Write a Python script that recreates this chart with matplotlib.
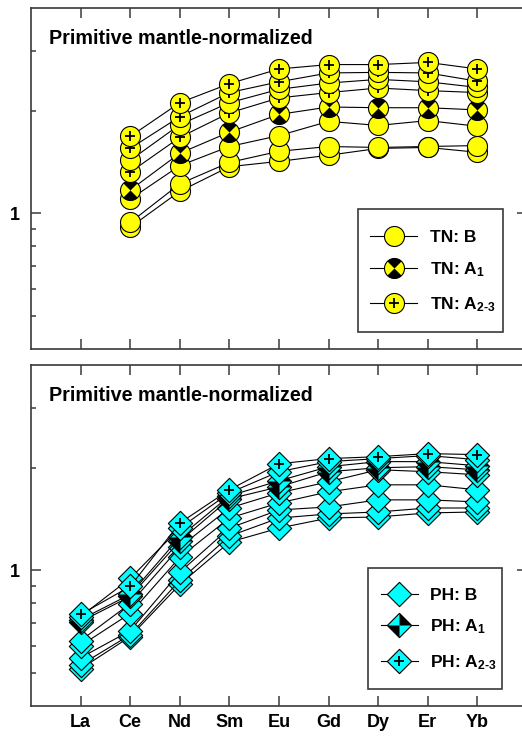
import numpy as np
import matplotlib
matplotlib.use('Agg')
import matplotlib.pyplot as plt
from matplotlib.path import Path
from matplotlib.patches import Rectangle
from matplotlib.ticker import FixedLocator, NullFormatter, FixedFormatter

plt.rcParams['font.family'] = ['Liberation Sans', 'DejaVu Sans']
plt.rcParams['font.weight'] = 'bold'
plt.rcParams['mathtext.fontset'] = 'custom'
plt.rcParams['mathtext.rm'] = 'Liberation Sans:bold'
plt.rcParams['mathtext.it'] = 'Liberation Sans:bold'
plt.rcParams['mathtext.bf'] = 'Liberation Sans:bold'
plt.rcParams['mathtext.default'] = 'rm'

# REE order on the x axis
elements = ['La', 'Ce', 'Nd', 'Sm', 'Eu', 'Gd', 'Dy', 'Er', 'Yb']

# TN samples (no La analysed) - Ce..Yb, primitive mantle-normalized
tn_elements = ['Ce', 'Nd', 'Sm', 'Eu', 'Gd', 'Dy', 'Er', 'Yb']
tn_groups = ['B', 'B', 'B', 'A1', 'A23', 'B', 'A23', 'A23']
tn_values = [
    [0.91, 1.16, 1.37, 1.42, 1.48, 1.55, 1.56, 1.51],
    [0.94, 1.22, 1.41, 1.52, 1.57, 1.56, 1.57, 1.58],
    [1.10, 1.38, 1.57, 1.69, 1.86, 1.81, 1.87, 1.80],
    [1.17, 1.50, 1.73, 1.95, 2.05, 2.04, 2.04, 2.01],
    [1.32, 1.67, 1.97, 2.18, 2.26, 2.33, 2.29, 2.26],
    [1.43, 1.82, 2.11, 2.31, 2.41, 2.47, 2.43, 2.34],
    [1.55, 1.92, 2.26, 2.43, 2.58, 2.59, 2.58, 2.44],
    [1.68, 2.11, 2.40, 2.65, 2.73, 2.73, 2.77, 2.65],
]

# PH samples - La..Yb, primitive mantle-normalized
ph_elements = elements
ph_groups = ['B', 'B', 'B', 'B', 'B', 'A1', 'A1', 'B', 'A23']
ph_values = [
    [0.514, 0.639, 0.909, 1.209, 1.330, 1.423, 1.434, 1.473, 1.483],
    [0.528, 0.647, 0.934, 1.260, 1.423, 1.463, 1.483, 1.523, 1.523],
    [0.554, 0.665, 0.987, 1.330, 1.503, 1.534, 1.609, 1.609, 1.587],
    [0.601, 0.747, 1.092, 1.423, 1.576, 1.699, 1.781, 1.781, 1.722],
    [0.622, 0.799, 1.169, 1.523, 1.687, 1.818, 1.972, 1.946, 1.906],
    [0.707, 0.838, 1.218, 1.620, 1.757, 1.946, 1.999, 2.013, 1.972],
    [0.717, 0.850, 1.251, 1.653, 1.830, 2.013, 2.083, 2.083, 2.026],
    [0.732, 0.947, 1.330, 1.687, 1.946, 2.083, 2.126, 2.170, 2.111],
    [0.742, 0.897, 1.376, 1.722, 2.054, 2.126, 2.154, 2.199, 2.184],
]

tn_labels = ['TN: B', 'TN: A$_1$', r'TN: A$_{2\text{-}3}$']
ph_labels = ['PH: B', 'PH: A$_1$', r'PH: A$_{2\text{-}3}$']
key_groups = ['B', 'A1', 'A23']

YELLOW = '#ffff00'
CYAN = '#00ffff'
AXCOL = '#3a3a3a'


def polygon(points):
    pts = list(points) + [points[0]]
    codes = [Path.MOVETO] + [Path.LINETO] * (len(points) - 1) + [Path.CLOSEPOLY]
    return Path(pts, codes)


def circle_hourglass():
    # black wedges top and bottom of the circle
    paths = []
    for a0 in (45, 225):
        t = np.radians(np.linspace(a0, a0 + 90, 31))
        pts = [(0, 0)] + list(zip(np.cos(t), np.sin(t)))
        paths.append(polygon(pts))
    return Path.make_compound_path(*paths)


DIAMOND = polygon([(0, 1), (1, 0), (0, -1), (-1, 0)])
# black quadrants: upper right and lower left
DIAMOND_HALF = Path.make_compound_path(
    polygon([(0, 0), (0, 1), (1, 0)]),
    polygon([(0, 0), (0, -1), (-1, 0)]),
)

STYLES = {
    'TN': dict(base='o', ms=14.4, fill=YELLOW, half=circle_hourglass()),
    'PH': dict(base=DIAMOND, ms=17.5, fill=CYAN, half=DIAMOND_HALF),
}


def draw_point(ax, x, y, group, style, z, **kw):
    ls = kw.pop('ls', '-')
    ax.plot(x, y, ls=ls, color='black', lw=0.8, marker=style['base'], ms=style['ms'],
            mfc=style['fill'], mec='black', mew=0.8, zorder=z, **kw)
    if group == 'A1':
        ax.plot(x, y, ls='none', marker=style['half'], ms=style['ms'], mfc='black',
                mec='none', zorder=z, **kw)
    elif group == 'A23':
        ax.plot(x, y, ls='none', marker='+', ms=7.5, mec='black', mew=1.3, zorder=z, **kw)


def draw_key(ax, box, rows, x_line, x_text, labels, style):
    ax.add_patch(Rectangle((box[0], box[1]), box[2] - box[0], box[3] - box[1],
                           transform=ax.transAxes, facecolor='white', edgecolor=AXCOL,
                           lw=1.2, zorder=20))
    for yk, lab, grp in zip(rows, labels, key_groups):
        ax.plot(x_line, [yk, yk], transform=ax.transAxes, color='black', lw=0.8,
                zorder=21, clip_on=False)
        draw_point(ax, [np.mean(x_line)], [yk], grp, style, 21, ls='none',
                   transform=ax.transAxes, clip_on=False)
        ax.text(x_text, yk - 0.018, lab, transform=ax.transAxes, fontsize=12.5,
                fontweight='bold', va='baseline', ha='left', zorder=22)


fig = plt.figure(figsize=(5.22, 7.40), dpi=100)
W, H = 522.0, 740.0
ax_top = fig.add_axes([31 / W, 1 - 349 / H, 496 / W, 341 / H])
ax_bot = fig.add_axes([31 / W, 1 - 706 / H, 496 / W, 341 / H])

xpos = {el: i + 1 for i, el in enumerate(elements)}

for ax, els, groups, values, kind in [
    (ax_top, tn_elements, tn_groups, tn_values, 'TN'),
    (ax_bot, ph_elements, ph_groups, ph_values, 'PH'),
]:
    x = [xpos[e] for e in els]
    for i, (grp, vals) in enumerate(zip(groups, values)):
        draw_point(ax, x, vals, grp, STYLES[kind], 3 + i * 0.01)

    ax.set_yscale('log')
    ax.set_ylim(0.4, 4.0)
    ax.set_xlim(0, 10)
    ax.yaxis.set_major_locator(FixedLocator([1]))
    ax.yaxis.set_major_formatter(FixedFormatter(['1']))
    ax.yaxis.set_minor_locator(FixedLocator([0.5, 0.6, 0.7, 0.8, 0.9, 2, 3]))
    ax.yaxis.set_minor_formatter(NullFormatter())
    ax.set_xticks(range(1, len(elements) + 1))
    ax.set_xticklabels(elements if ax is ax_bot else [])
    ax.tick_params(which='both', direction='in', top=True, right=True, color=AXCOL, width=1.1)
    ax.tick_params(which='major', length=7.2)
    ax.tick_params(which='minor', length=3.6)
    ax.tick_params(axis='x', pad=6, labelsize=13)
    ax.tick_params(axis='y', pad=8, labelsize=13)
    for lab in ax.get_xticklabels() + ax.get_yticklabels():
        lab.set_fontweight('bold')
    for sp in ax.spines.values():
        sp.set_color(AXCOL)
        sp.set_linewidth(1.2)
    ax.text(0.037, 1 - 36.3 / 341, 'Primitive mantle-normalized', transform=ax.transAxes,
            fontsize=14.2, fontweight='bold', va='baseline', ha='left')

draw_key(ax_top, (0.659, 0.050, 0.952, 0.4106), [0.3314, 0.2375, 0.1349],
         [0.6835, 0.7782], 0.804, tn_labels, STYLES['TN'])
draw_key(ax_bot, (0.679, 0.050, 0.950, 0.4047), [0.3284, 0.2375, 0.1320],
         [0.7056, 0.7802], 0.804, ph_labels, STYLES['PH'])

fig.savefig('out.png', dpi=100)
